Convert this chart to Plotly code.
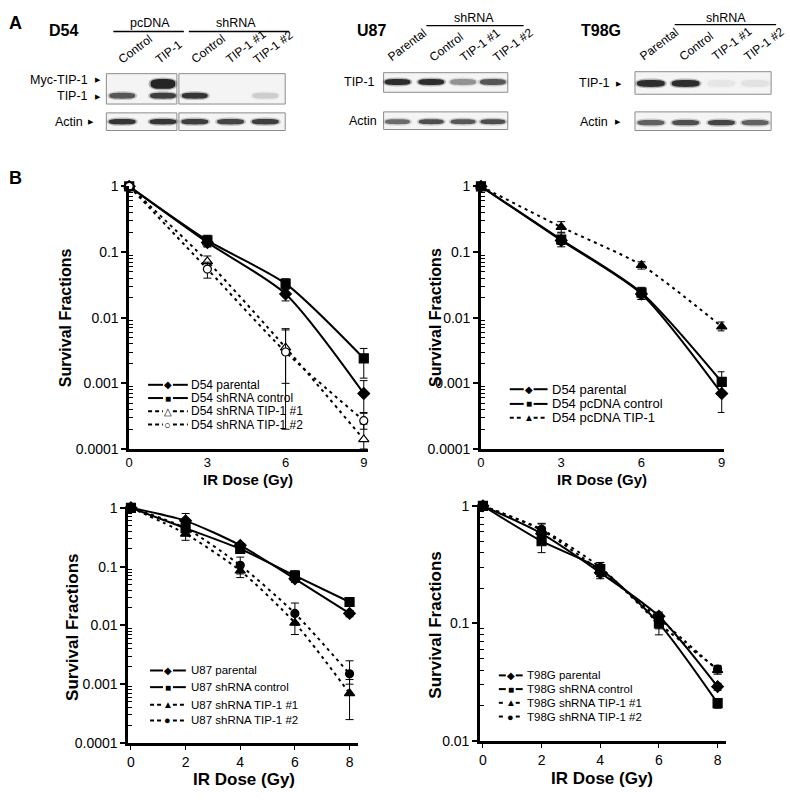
import math
import plotly.graph_objects as go

# ---------------- DATA ----------------
# Panel B, top-left: D54 shRNA
dose_d54 = [0, 3, 6, 9]
d54_parental = [1.0, 0.14, 0.023, 0.0007]
d54_parental_hi = [0, 0.02, 0.005, 0.0004]
d54_parental_lo = [0, 0.02, 0.005, 0.00035]
d54_sh_control = [1.0, 0.15, 0.033, 0.0024]
d54_sh_control_hi = [0, 0.03, 0.006, 0.001]
d54_sh_control_lo = [0, 0.03, 0.006, 0.0012]
d54_sh_tip1_1 = [1.0, 0.072, 0.0035, 0.00014]
d54_sh_tip1_1_hi = [0, 0.015, 0.003, 0.0001]
d54_sh_tip1_1_lo = [0, 0.015, 0.0025, 0.00004]
d54_sh_tip1_2 = [1.0, 0.055, 0.003, 0.00027]
d54_sh_tip1_2_hi = [0, 0.015, 0.0038, 0.00009]
d54_sh_tip1_2_lo = [0, 0.015, 0.0028, 0.00007]

# Panel B, top-right: D54 pcDNA
d54b_parental = [1.0, 0.15, 0.023, 0.0007]
d54b_parental_hi = [0, 0.02, 0.004, 0.0003]
d54b_parental_lo = [0, 0.02, 0.004, 0.00034]
d54_pc_control = [1.0, 0.155, 0.024, 0.00105]
d54_pc_control_hi = [0, 0.04, 0.005, 0.00045]
d54_pc_control_lo = [0, 0.035, 0.005, 0.0003]
d54_pc_tip1 = [1.0, 0.24, 0.063, 0.0073]
d54_pc_tip1_hi = [0, 0.05, 0.008, 0.0013]
d54_pc_tip1_lo = [0, 0.04, 0.008, 0.001]

# Panel B, bottom-left: U87
dose_8 = [0, 2, 4, 6, 8]
u87_parental = [1.0, 0.6, 0.23, 0.062, 0.016]
u87_parental_err = [0.05, 0.2, 0.02, 0.008, 0.002]
u87_control = [1.0, 0.45, 0.2, 0.07, 0.025]
u87_control_err = [0.05, 0.1, 0.03, 0.015, 0.004]
u87_tip1_1 = [1.0, 0.36, 0.085, 0.011, 0.0007]
u87_tip1_1_hi = [0.05, 0.08, 0.02, 0.004, 0.0005]
u87_tip1_1_lo = [0.05, 0.08, 0.02, 0.004, 0.00045]
u87_tip1_2 = [1.0, 0.45, 0.105, 0.016, 0.0015]
u87_tip1_2_hi = [0.05, 0.1, 0.04, 0.008, 0.001]
u87_tip1_2_lo = [0.05, 0.1, 0.03, 0.005, 0.0005]

# Panel B, bottom-right: T98G
t98_parental = [1.0, 0.58, 0.27, 0.115, 0.029]
t98_parental_err = [0.05, 0.08, 0.03, 0.01, 0.002]
t98_control = [1.0, 0.5, 0.29, 0.1, 0.021]
t98_control_err = [0.05, 0.1, 0.04, 0.02, 0.002]
t98_tip1_1 = [1.0, 0.62, 0.28, 0.11, 0.04]
t98_tip1_1_err = [0.05, 0.08, 0.03, 0.01, 0.003]
t98_tip1_2 = [1.0, 0.63, 0.3, 0.1, 0.041]
t98_tip1_2_err = [0.05, 0.08, 0.03, 0.01, 0.003]

# Panel A: relative band intensities (0..1) per lane
d54_lanes = ["Control", "TIP-1", "Control", "TIP-1 #1", "TIP-1 #2"]
d54_myc_band = [0.0, 1.0, 0.0, 0.0, 0.0]
d54_tip1_band = [0.7, 0.85, 0.9, 0.0, 0.15]
d54_actin_band = [0.9, 0.9, 0.85, 0.8, 0.85]
u87_lanes = ["Parental", "Control", "TIP-1 #1", "TIP-1 #2"]
u87_tip1_band = [0.95, 0.95, 0.4, 0.7]
u87_actin_band = [0.6, 0.75, 0.7, 0.75]
t98_lanes = ["Parental", "Control", "TIP-1 #1", "TIP-1 #2"]
t98_tip1_band = [0.95, 0.95, 0.05, 0.07]
t98_actin_band = [0.65, 0.75, 0.8, 0.65]

# ---------------- FIGURE ----------------
W, H = 790, 800
FONT = "Arial, Liberation Sans, sans-serif"


def fx(x):
    return x / W


def fy(y):
    return 1 - y / H


fig = go.Figure()
annotations = []
shapes = []


def txt(x, y, s, size, bold=False, xanchor="center", yanchor="middle", angle=0):
    annotations.append(dict(
        x=fx(x), y=fy(y), xref="paper", yref="paper", showarrow=False,
        text=f"<b>{s}</b>" if bold else s, textangle=angle,
        xanchor=xanchor, yanchor=yanchor, borderpad=0,
        font=dict(family=FONT, size=size, color="black")))


def hline(x0, x1, y, width=1.3, dash="solid", color="black"):
    shapes.append(dict(type="line", xref="paper", yref="paper",
                       x0=fx(x0), x1=fx(x1), y0=fy(y), y1=fy(y),
                       line=dict(color=color, width=width, dash=dash)))


def series(xa, ya, x, y, hi, lo, symbol, dash, open_=False):
    fig.add_trace(go.Scatter(
        x=x, y=y, xaxis=xa, yaxis=ya, mode="lines+markers",
        line=dict(color="black", width=2, dash=dash, shape="spline", smoothing=0.7),
        marker=dict(symbol=symbol, size=9 if "circle" not in symbol else 8,
                    color="white" if open_ else "black",
                    line=dict(color="black", width=1.2)),
        error_y=dict(type="data", array=hi, arrayminus=lo, symmetric=False,
                     color="black", thickness=1, width=4),
        showlegend=False, cliponaxis=False, hoverinfo="x+y"))


DASH = "3px,4px"
# top-left
series("x", "y", dose_d54, d54_parental, d54_parental_hi, d54_parental_lo, "diamond", "solid")
series("x", "y", dose_d54, d54_sh_control, d54_sh_control_hi, d54_sh_control_lo, "square", "solid")
series("x", "y", dose_d54, d54_sh_tip1_1, d54_sh_tip1_1_hi, d54_sh_tip1_1_lo, "triangle-up", DASH, True)
series("x", "y", dose_d54, d54_sh_tip1_2, d54_sh_tip1_2_hi, d54_sh_tip1_2_lo, "circle", DASH, True)
# top-right
series("x2", "y2", dose_d54, d54b_parental, d54b_parental_hi, d54b_parental_lo, "diamond", "solid")
series("x2", "y2", dose_d54, d54_pc_control, d54_pc_control_hi, d54_pc_control_lo, "square", "solid")
series("x2", "y2", dose_d54, d54_pc_tip1, d54_pc_tip1_hi, d54_pc_tip1_lo, "triangle-up", DASH)
# bottom-left
series("x3", "y3", dose_8, u87_parental, u87_parental_err, u87_parental_err, "diamond", "solid")
series("x3", "y3", dose_8, u87_control, u87_control_err, u87_control_err, "square", "solid")
series("x3", "y3", dose_8, u87_tip1_1, u87_tip1_1_hi, u87_tip1_1_lo, "triangle-up", DASH)
series("x3", "y3", dose_8, u87_tip1_2, u87_tip1_2_hi, u87_tip1_2_lo, "circle", DASH)
# bottom-right
series("x4", "y4", dose_8, t98_parental, t98_parental_err, t98_parental_err, "diamond", "solid")
series("x4", "y4", dose_8, t98_control, t98_control_err, t98_control_err, "square", "solid")
series("x4", "y4", dose_8, t98_tip1_1, t98_tip1_1_err, t98_tip1_1_err, "triangle-up", DASH)
series("x4", "y4", dose_8, t98_tip1_2, t98_tip1_2_err, t98_tip1_2_err, "circle", DASH)


def yaxis_log(dom, lo_exp, anchor):
    majors = [10 ** e for e in range(lo_exp, 1)]
    labels = [("%g" % v) if v >= 0.001 else "0.0001" for v in majors]
    minors = [k * 10 ** e for e in range(lo_exp, 0) for k in range(2, 10)]
    return dict(domain=dom, type="log", range=[lo_exp, 0], anchor=anchor,
                tickmode="array", tickvals=majors, ticktext=labels,
                ticks="outside", ticklen=5, tickwidth=1.5, tickcolor="black",
                minor=dict(tickmode="array", tickvals=minors, ticks="inside",
                           ticklen=4, tickwidth=1.2, tickcolor="black", showgrid=False),
                showline=True, linecolor="black", linewidth=2.5,
                showgrid=False, zeroline=False,
                tickfont=dict(family=FONT, size=14, color="black"))


def xaxis_lin(dom, rng, vals, anchor, ticks="", size=14):
    return dict(domain=dom, range=rng, anchor=anchor, tickmode="array",
                tickvals=vals, ticktext=[str(v) for v in vals],
                ticks=ticks, ticklen=4, tickwidth=1, tickcolor="black",
                showline=True, linecolor="black", linewidth=2.5,
                showgrid=False, zeroline=False,
                tickfont=dict(family=FONT, size=size, color="black"))


layout = dict(
    width=W, height=H, margin=dict(l=0, r=0, t=0, b=0),
    paper_bgcolor="white", plot_bgcolor="rgba(0,0,0,0)", showlegend=False,
    xaxis=xaxis_lin([fx(126), fx(366)], [0, 9.15], [0, 3, 6, 9], "y", size=13),
    yaxis=yaxis_log([fy(450), fy(182)], -4, "x"),
    xaxis2=xaxis_lin([fx(480), fx(725)], [0, 9.1], [0, 3, 6, 9], "y2", size=13),
    yaxis2=yaxis_log([fy(450), fy(182)], -4, "x2"),
    xaxis3=xaxis_lin([fx(125), fx(356)], [-0.1, 8.3], [0, 2, 4, 6, 8], "y3", "outside"),
    yaxis3=yaxis_log([fy(750), fy(510)], -4, "x3"),
    xaxis4=xaxis_lin([fx(479), fx(727)], [-0.1, 8.3], [0, 2, 4, 6, 8], "y4", "outside"),
    yaxis4=yaxis_log([fy(748), fy(508)], -2, "x4"),
)

# axis titles
txt(62, 316, "Survival Fractions", 16, bold=True, angle=-90)
txt(434, 316, "Survival Fractions", 16, bold=True, angle=-90)
txt(69, 632, "Survival Fractions", 17, bold=True, angle=-90)
txt(434, 630, "Survival Fractions", 17, bold=True, angle=-90)
txt(246, 481, "IR Dose (Gy)", 15, bold=True)
txt(602, 481, "IR Dose (Gy)", 15, bold=True)
txt(242, 787, "IR Dose (Gy)", 17, bold=True)
txt(602, 786, "IR Dose (Gy)", 17, bold=True)

# manual legends
GLYPH = {"diamond": "◆", "square": "■", "tri_open": "△", "circ_open": "○",
         "tri": "▲", "circ": "●"}


def legend(x0, x1, xt, ys, items, size):
    for y, (label, g, dashed) in zip(ys, items):
        cx = (x0 + x1) / 2
        d = "4px,3px" if dashed else "solid"
        hline(x0, cx - 5, y, width=2, dash=d)
        hline(cx + 5, x1, y, width=2, dash=d)
        gs = 10 if g in ("diamond", "square", "tri", "tri_open") else 11
        txt(cx, y, GLYPH[g], gs)
        txt(xt, y, label, size, xanchor="left")


legend(145, 185, 187, [384.5, 398, 411.5, 425],
       [("D54 parental", "diamond", False), ("D54 shRNA control", "square", False),
        ("D54 shRNA TIP-1 #1", "tri_open", True), ("D54 shRNA TIP-1 #2", "circ_open", True)], 12)
legend(509, 547, 550, [389, 404, 418],
       [("D54 parental", "diamond", False), ("D54 pcDNA control", "square", False),
        ("D54 pcDNA TIP-1", "tri", True)], 13)
legend(147, 183, 187, [676, 693, 711, 727],
       [("U87 parental", "diamond", False), ("U87 shRNA control", "square", False),
        ("U87 shRNA TIP-1 #1", "tri", True), ("U87 shRNA TIP-1 #2", "circ", True)], 11.5)
legend(498, 522, 525, [681, 695, 709, 723],
       [("T98G parental", "diamond", False), ("T98G shRNA control", "square", False),
        ("T98G shRNA TIP-1 #1", "tri", True), ("T98G shRNA TIP-1 #2", "circ", True)], 11.5)

# ---------------- Panel A: western blots ----------------
txt(12, 15, "A", 18, bold=True)
txt(12, 173, "B", 18, bold=True)


def box(x0, x1, y0, y1):
    shapes.append(dict(type="rect", xref="paper", yref="paper",
                       x0=fx(x0), x1=fx(x1), y0=fy(y1), y1=fy(y0),
                       line=dict(color="#8c8c8c", width=1), fillcolor="#f4f4f4",
                       layer="below"))


def blob_path(cx, cy, w, h, n=4.0, pts=36):
    a, b = w / 2, h / 2
    parts = []
    for i in range(pts):
        t = 2 * math.pi * i / pts
        c, s = math.cos(t), math.sin(t)
        x = cx + a * math.copysign(abs(c) ** (2 / n), c)
        y = cy + b * math.copysign(abs(s) ** (2 / n), s)
        parts.append(("M" if i == 0 else "L") + f"{fx(x):.5f},{fy(y):.5f}")
    return " ".join(parts) + " Z"


def band(cx, cy, w, h, inten):
    if inten <= 0:
        return
    shapes.append(dict(type="path", xref="paper", yref="paper",
                       path=blob_path(cx, cy, w + 4, h + 3, n=2.5),
                       fillcolor=f"rgba(60,60,60,{0.35 * inten:.3f})", line=dict(width=0)))
    shapes.append(dict(type="path", xref="paper", yref="paper",
                       path=blob_path(cx, cy, w, h, n=3.0),
                       fillcolor=f"rgba(25,25,25,{0.92 * inten:.3f})", line=dict(width=0)))


LANE_FONT = 12
# D54
txt(60, 23, "D54", 16, bold=True)
txt(147, 15, "pcDNA", 12.5)
hline(110, 181, 24)
txt(233, 15, "shRNA", 12.5)
hline(186, 287, 24)
box(103, 174, 67, 98)
box(176, 283, 67, 98)
box(103, 174, 107, 125)
box(176, 283, 107, 125)
d54_cx = [119, 160, 192, 228, 263]
d54_lx = [111, 148, 184, 219, 247]
for cx, lx, lab, m, t, a in zip(d54_cx, d54_lx, d54_lanes, d54_myc_band, d54_tip1_band, d54_actin_band):
    band(cx, 77.5, 25, 10, m)
    band(cx, 89.5, 26, 6, t)
    band(cx, 116, 27, 5.5, a)
    txt(lx, 61, lab, LANE_FONT, xanchor="left", yanchor="bottom", angle=-37)
txt(86, 73, "Myc-TIP-1", 12.5, xanchor="right")
txt(86, 90, "TIP-1", 12.5, xanchor="right")
txt(81, 116, "Actin", 12.5, xanchor="right")
txt(95, 73, "▶", 7)
txt(95, 90, "▶", 7)
txt(88, 116, "▶", 7)

# U87
txt(370, 23, "U87", 16, bold=True)
txt(473, 10, "shRNA", 12.5)
hline(425, 523, 18)
box(382, 507, 66, 86)
box(382, 507, 106, 124)
u87_cx = [396, 430, 462, 492]
u87_lx = [382, 424, 455, 488]
for cx, lx, lab, t, a in zip(u87_cx, u87_lx, u87_lanes, u87_tip1_band, u87_actin_band):
    band(cx, 75.5, 26, 6, t)
    band(cx, 116, 25, 5, a)
    txt(lx, 59, lab, LANE_FONT, xanchor="left", yanchor="bottom", angle=-37)
txt(374, 76, "TIP-1", 12.5, xanchor="right")
txt(376, 115, "Actin", 12.5, xanchor="right")

# T98G
txt(601, 23, "T98G", 16, bold=True)
txt(727, 10, "shRNA", 12.5)
hline(675, 777, 17)
box(635, 772, 65, 88)
box(635, 772, 106, 125)
t98_cx = [651, 686, 722, 756]
t98_lx = [636, 676, 708, 741]
for cx, lx, lab, t, a in zip(t98_cx, t98_lx, t98_lanes, t98_tip1_band, t98_actin_band):
    band(cx, 77, 28, 7, t)
    band(cx, 117, 27, 5.5, a)
    txt(lx, 58, lab, LANE_FONT, xanchor="left", yanchor="bottom", angle=-37)
txt(611, 77, "TIP-1", 12.5, xanchor="right")
txt(609, 116, "Actin", 12.5, xanchor="right")
txt(619, 77, "▶", 7)
txt(618, 116, "▶", 7)

layout["annotations"] = annotations
layout["shapes"] = shapes
fig.update_layout(**layout)
fig.write_html("out.html", config={"displayModeBar": False},
               post_script="document.body.style.margin='0';document.body.style.padding='0';")
